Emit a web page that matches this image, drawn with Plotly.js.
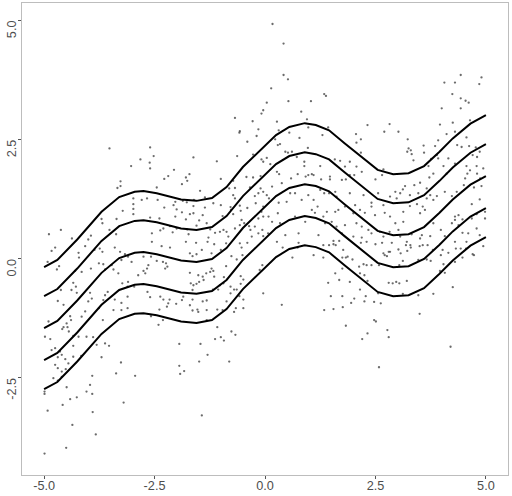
<!DOCTYPE html>
<html>
<head>
<meta charset="utf-8">
<script src="https://cdn.plot.ly/plotly-3.0.1.min.js"></script>
<style>html,body{margin:0;padding:0;background:#fff;}#chart{width:512px;height:496px;}</style>
</head>
<body>
<div id="chart"></div>
<script>
// Quantile curves (0.1, 0.25, 0.5, 0.75, 0.9)
var curveX = [-5,-4.7,-4.25,-3.7,-3.3,-2.95,-2.75,-2.45,-1.9,-1.55,-1.2,-0.87,-0.5,0,0.25,0.55,0.9,1.15,1.45,1.8,2.2,2.55,2.9,3.25,3.6,3.95,4.25,4.65,5];
var q90 = [-0.18,-0.03,0.40,0.98,1.29,1.40,1.415,1.37,1.24,1.21,1.27,1.50,1.92,2.38,2.59,2.76,2.84,2.80,2.69,2.42,2.13,1.86,1.77,1.79,1.94,2.24,2.52,2.83,3.01];
var q75 = [-0.79,-0.64,-0.21,0.37,0.68,0.79,0.805,0.76,0.63,0.60,0.66,0.89,1.31,1.77,1.98,2.15,2.23,2.19,2.08,1.81,1.52,1.25,1.16,1.18,1.33,1.63,1.91,2.22,2.40];
var q50 = [-1.46,-1.31,-0.88,-0.30,0.01,0.12,0.135,0.09,-0.04,-0.07,-0.01,0.22,0.64,1.10,1.31,1.48,1.56,1.52,1.41,1.14,0.85,0.58,0.49,0.51,0.66,0.96,1.24,1.55,1.73];
var q25 = [-2.13,-1.98,-1.55,-0.97,-0.66,-0.55,-0.535,-0.58,-0.71,-0.74,-0.68,-0.45,-0.03,0.43,0.64,0.81,0.89,0.85,0.74,0.47,0.18,-0.09,-0.18,-0.16,-0.01,0.29,0.57,0.88,1.06];
var q10 = [-2.74,-2.59,-2.16,-1.58,-1.27,-1.16,-1.145,-1.19,-1.32,-1.35,-1.29,-1.06,-0.64,-0.18,0.03,0.20,0.28,0.24,0.13,-0.14,-0.43,-0.70,-0.79,-0.77,-0.62,-0.32,-0.04,0.27,0.45];

// Scatter points, read region by region
var dotsXa = [-3.52,-2.82,-3.03,-3.27,-3.27,-3.34,-2.98,-2.79,-2.98,-2.98,-2.98,-3.22,-3.36,-3.70,-3.68,-3.52,-3.37,-4.62,-4.89,-4.37,-3.94,-4.00];
var dotsYa = [2.31,2.08,1.94,1.62,1.52,1.48,1.26,1.23,1.14,1.04,0.93,1.00,0.83,0.83,0.74,0.60,0.51,0.60,0.51,0.42,0.48,0.40];

var dotsXb = [-0.04,-0.08,-0.68,-0.28,-0.57,-0.58,-0.15,-0.19,-0.40,-2.60,
-2.52,-1.62,-1.09,-0.63,-0.27,-0.08,-0.04,-2.61,-2.60,-2.06,
-2.19,-2.28,-1.71,-1.79,-1.76,-1.88,-1.00,-2.45,-1.47,-0.72,
-0.81,-0.68,-0.42,-0.27,-0.10,-0.34,-0.10,-0.15,-0.23,-0.04,
-0.72,-0.68,-2.67,-2.43,-2.03,-1.86,-1.77,-1.61,-1.36,-1.17,
-2.28,-2.07,-2.00,-1.62,-1.36,-1.00,-0.78,-0.57,-0.40,-0.77,
-0.55,-0.72,-0.96,-1.41,-1.62,-1.70,-1.88,-2.03,-1.79,-2.39,
-2.60,-1.49,-1.32,-1.55,-1.24,-2.00,-2.15,-2.30,-2.37,-2.56,
-2.09,-1.76,-1.73,-1.13,-1.02,-0.94,-0.53,-0.57,-0.47,-0.36,
-0.33,-0.23,-0.15,-0.30,-0.68,-0.87,-0.83,-1.28,-0.04,-0.08,
-0.04,-0.21,-0.15,-0.06,-0.04];
var dotsYb = [3.11,3.04,2.95,2.88,2.67,2.64,2.71,2.57,2.45,2.33,
2.15,2.12,2.04,2.15,2.18,2.08,2.03,2.01,1.89,1.86,
1.73,1.67,1.77,1.70,1.63,1.56,1.67,1.49,1.42,1.63,
1.47,1.48,1.71,1.70,1.73,1.49,1.47,1.37,1.31,1.40,
1.33,1.26,1.26,1.23,1.19,1.21,1.18,1.23,1.28,1.16,
1.07,1.12,1.03,1.10,1.07,1.12,1.08,1.11,1.06,1.02,
1.00,0.93,0.89,0.91,0.95,0.93,0.97,0.88,0.82,0.84,
0.86,0.80,0.74,0.69,0.61,0.63,0.68,0.63,0.59,0.53,
0.55,0.61,0.51,0.54,0.56,0.60,0.81,0.70,0.74,0.68,
0.60,0.67,0.53,0.46,0.63,0.56,0.46,0.44,0.88,0.98,
1.09,1.16,0.84,0.60,0.47];

var dotsXc = [0.17,0.42,0.42,0.52,0.14,0.04,0.53,1.04,1.34,1.38,
0.82,0.27,0.95,0.98,2.32,2.70,0.31,0.55,1.43,0.78,
0.23,0.29,0.34,1.30,2.06,2.17,2.07,0.97,0.46,0.52,
0.61,2.17,0.04,0.12,0.27,0.32,0.72,0.89,0.89,1.25,
1.58,1.70,1.92,1.81,2.07,2.19,2.02,2.50,2.68,2.65,
0.38,0.59,0.74,0.98,1.06,1.10,0.92,1.47,1.47,1.27,
1.74,1.83,1.92,0.16,0.57,0.68,0.98,1.10,1.25,1.34,
1.45,1.59,1.62,1.92,2.23,2.41,2.56,0.04,0.09,0.31,
0.49,0.83,1.06,1.13,1.19,1.40,1.59,1.66,1.81,2.00,
2.04,2.15,2.26,2.41,2.49,2.68,2.71,0.08,0.16,0.29,
0.34,0.68,0.91,1.32,1.36,1.51,1.62,1.81,2.07,2.19,
2.34,2.41,2.60,2.68,0.76,0.46,0.07,1.21,1.74,2.00,
2.19];
var dotsYc = [4.92,4.51,3.85,3.76,3.57,3.27,3.30,3.30,3.45,3.41,
3.08,2.87,2.92,2.75,2.80,2.66,2.69,2.64,2.75,2.53,
2.50,2.38,2.40,2.59,2.61,2.50,2.43,2.32,2.24,2.22,
2.24,2.22,2.11,1.98,1.82,1.77,2.13,2.03,1.94,1.94,
2.08,2.05,2.03,1.93,1.93,1.82,1.75,1.66,1.87,1.75,
1.58,1.68,1.77,1.75,1.77,1.75,1.72,1.72,1.66,1.66,
1.65,1.66,1.75,1.51,1.37,1.37,1.33,1.23,1.44,1.37,
1.37,1.40,1.30,1.37,1.33,1.17,1.37,1.33,1.26,1.17,
1.19,1.23,1.02,0.96,1.09,0.98,0.98,1.02,1.09,0.95,
1.12,1.02,0.96,1.09,0.91,1.12,0.96,0.88,0.77,0.95,
0.74,0.88,0.77,0.88,0.74,0.77,0.67,0.70,0.74,0.67,
0.60,0.53,0.56,0.46,0.53,0.49,0.53,0.49,0.53,0.46,
0.44];

var dotsXd = [4.43,4.90,4.85,4.06,4.30,4.24,4.43,4.54,4.61,4.00,
4.43,2.82,3.02,3.23,3.96,4.25,4.64,4.11,4.30,3.92,
3.25,3.30,3.22,3.32,3.36,3.59,3.60,3.85,4.35,4.45,
4.56,4.62,4.77,4.86,4.70,4.80,4.15,3.92,3.89,3.76,
3.70,4.04,4.30,4.56,4.79,4.94,4.64,4.58,4.53,4.80,
4.87,4.50,4.73,4.90,4.11,3.81,3.72,3.51,3.38,3.17,
3.12,2.95,3.06,2.83,2.98,3.28,3.47,3.66,3.74,3.89,
3.66,3.81,4.07,4.23,4.34,4.86,3.28,3.44,3.57,3.62,
3.51,4.68,3.13,2.83,2.95,3.13,3.81,4.30,4.38,4.30,
4.23,4.38,4.47,4.68,4.79,4.98,4.98,3.98,4.07,4.47,
4.60,4.79,2.82,3.02,3.06,3.32,3.55,3.51,3.74,4.86];
var dotsYd = [3.85,3.80,3.66,3.69,3.69,3.45,3.36,3.31,3.27,3.15,
3.15,2.82,2.66,2.50,2.81,2.85,2.90,2.61,2.66,2.48,
2.31,2.27,2.24,2.19,2.06,2.37,2.22,2.36,2.38,2.34,
2.54,2.36,2.33,2.24,2.17,2.13,2.10,2.10,2.17,2.09,
1.94,1.94,1.99,1.94,1.94,1.89,1.85,1.78,1.68,1.78,
1.68,1.54,1.49,1.52,1.78,1.78,1.70,1.59,1.54,1.52,
1.45,1.40,1.37,1.30,1.26,1.33,1.37,1.47,1.33,1.31,
1.26,1.23,1.40,1.31,1.40,1.24,1.10,1.14,1.09,1.02,
0.95,1.14,0.98,0.88,0.74,0.77,0.74,0.88,0.91,0.81,
0.74,0.70,0.82,0.84,0.93,0.98,0.84,0.60,0.47,0.54,
0.53,0.63,0.56,0.60,0.46,0.51,0.49,0.42,0.47,0.49];

var dotsXe = [-4.92,-4.83,-4.75,-4.66,-4.71,-4.22,-4.21,-4.07,-3.86,-3.74,
-3.68,-3.76,-3.66,-3.47,-3.62,-3.94,-4.15,-4.30,-4.34,-4.28,
-4.26,-4.38,-4.62,-4.69,-4.56,-4.90,-3.40,-3.28,-3.17,-3.10,
-3.25,-3.02,-3.43,-3.32,-2.87,-3.10,-3.23,-3.11,-2.96,-3.56,
-3.62,-3.96,-3.92,-3.66,-3.40,-3.25,-3.11,-3.11,-3.25,-3.43,
-3.76,-4.00,-4.07,-4.15,-4.41,-4.39,-4.49,-4.56,-4.47,-4.59,
-4.44,-4.34,-4.22,-4.04,-3.89,-3.67,-3.62,-3.53,-3.81,-4.34,
-4.86,-4.98,-4.83,-4.75,-4.64,-4.60,-4.69,-4.52,-4.75,-4.69,
-4.60,-4.51,-4.45,-4.34,-4.16,-3.70,-3.26,-4.79,-4.69,-4.60,
-4.49,-4.99,-4.99,-3.91,-3.96,-4.04,-3.91,-4.26,-4.41,-4.58,
-4.92,-3.90,-3.37,-2.94,-3.20,-4.36,-3.83,-4.50,-4.99];
var dotsYe = [-0.07,0.16,0.23,-0.16,-0.23,0.12,0.02,0.26,0.18,0.21,
0.14,-0.10,-0.12,-0.14,-0.23,-0.21,-0.28,-0.26,-0.51,-0.59,
-0.72,-0.66,-0.66,-0.89,-0.97,-1.32,0.23,0.14,0.09,0.04,
-0.03,-0.07,-0.23,-0.31,-0.35,-0.49,-0.52,-0.59,-0.59,-0.70,
-0.77,-0.72,-0.84,-0.87,-0.86,-0.93,-0.80,-1.04,-1.08,-1.08,
-1.04,-0.90,-1.11,-1.22,-1.21,-1.29,-1.36,-1.44,-1.44,-1.48,
-1.53,-1.62,-1.64,-1.64,-1.65,-1.29,-1.78,-1.83,-1.81,-1.83,
-1.69,-1.64,-1.92,-1.88,-1.95,-2.02,-2.07,-2.11,-2.23,-2.30,
-2.37,-2.32,-2.20,-2.06,-2.04,-2.07,-2.18,-2.51,-2.56,-2.48,
-2.70,-2.79,-2.84,-2.46,-2.65,-2.79,-2.84,-2.91,-2.95,-3.07,
-3.19,-3.22,-2.41,-2.46,-3.02,-3.49,-3.69,-3.97,-4.09];

var dotsXf = [-2.56,-2.34,-2.15,-1.79,-1.56,-1.30,-1.15,-0.88,-0.57,-0.40,
-0.53,-1.43,-1.70,-1.64,-1.55,-1.21,-1.00,-0.76,-0.64,-0.51,
-2.58,-2.45,-2.31,-2.24,-2.21,-2.26,-2.75,-2.64,-2.67,-2.71,
-2.75,-1.70,-1.33,-1.24,-1.17,-1.21,-1.41,-1.51,-1.39,-1.15,
-0.93,-0.88,-0.94,-0.78,-0.70,-0.55,-0.49,-0.55,-1.06,-1.02,
-1.18,-1.68,-1.62,-1.55,-1.49,-1.64,-2.66,-2.60,-2.37,-2.30,
-2.16,-2.19,-2.01,-1.88,-1.85,-1.64,-1.41,-1.32,-1.70,-1.53,
-1.51,-1.64,-1.32,-1.08,-0.96,-0.87,-0.78,-0.64,-0.58,-0.49,
-0.49,-0.66,-0.70,-2.22,-2.39,-2.58,-2.31,-2.41,-1.32,-1.08,
-1.13,-1.00,-0.93,-0.76,-0.67,-1.94,-1.46,-1.30,-1.49,-0.81,
-1.94,-1.83,-1.92,-1.43,-0.04,-0.06,-0.12];
var dotsYf = [0.35,0.26,0.23,0.35,0.33,0.35,0.30,0.32,0.32,0.33,
0.23,0.18,0.11,0.05,0.09,0.11,0.18,0.05,-0.02,0.07,
0.04,-0.05,-0.07,-0.10,-0.17,-0.21,0.04,-0.14,-0.21,-0.31,
-0.26,-0.30,-0.31,-0.28,-0.26,-0.21,-0.38,-0.35,-0.45,-0.38,
-0.39,-0.16,-0.52,-0.59,-0.65,-0.53,-0.44,-0.37,-0.65,-0.56,
-0.65,-0.52,-0.56,-0.53,-0.49,-0.66,-0.70,-0.81,-0.80,-0.86,
-0.86,-0.94,-0.95,-0.87,-0.80,-0.86,-0.90,-0.88,-0.98,-1.07,
-1.12,-1.09,-1.08,-1.07,-1.08,-0.90,-0.73,-0.65,-0.79,-0.86,
-1.04,-1.04,-1.12,-1.01,-1.07,-1.21,-1.29,-1.39,-1.29,-1.44,
-1.69,-1.65,-1.72,-1.53,-1.60,-1.79,-1.79,-2.02,-2.16,-2.16,
-2.25,-2.36,-2.42,-3.29,-0.73,-0.14,-0.24];

var dotsXg = [0.27,0.40,0.76,0.74,1.32,1.45,1.55,1.60,1.55,1.68,
2.17,2.30,2.50,2.65,2.68,2.71,0.62,1.10,1.32,1.77,
1.75,1.83,1.87,1.98,2.23,2.30,2.41,2.13,2.58,1.75,
1.59,2.15,2.25,1.43,1.68,1.92,2.32,2.15,2.56,2.28,
2.02,1.75,1.49,1.95,2.25,2.47,2.62,0.38,1.34,1.55,
1.76,2.47,2.51,1.83,2.32,2.20,2.58];
var dotsYg = [0.35,0.23,0.33,0.23,0.28,0.28,0.30,0.28,0.37,0.37,
0.33,0.35,0.30,0.33,0.11,0.07,0.02,0.07,0.02,0.18,
0.02,0.02,0.04,-0.02,-0.12,-0.14,-0.14,-0.17,-0.14,-0.21,
-0.31,-0.31,-0.35,-0.51,-0.45,-0.49,-0.47,-0.65,-0.73,-0.79,
-0.84,-0.79,-0.79,-0.93,-0.90,-0.91,-0.94,-0.97,-1.08,-1.06,
-1.02,-1.29,-1.32,-1.41,-1.57,-1.69,-2.28];

var dotsXh = [2.87,2.80,2.83,2.76,3.02,3.07,3.21,3.19,3.29,3.30,
3.22,3.12,3.04,3.50,3.57,3.68,3.47,3.66,3.75,3.80,
3.98,4.02,4.15,4.04,3.96,4.07,4.30,4.32,4.43,4.55,
4.56,4.30,4.47,4.70,4.73,4.94,2.80,2.89,2.97,3.04,
3.21,3.12,3.47,3.81,4.25,3.50,2.77,2.80,4.20];
var dotsYh = [0.33,0.14,0.14,0.05,0.19,0.11,0.35,0.28,0.28,0.23,
0.16,-0.05,-0.14,0.26,0.28,0.28,-0.03,-0.02,-0.05,0.18,
0.07,0.18,0.12,-0.12,-0.26,-0.30,0.35,0.21,0.21,0.21,
0.35,-0.07,0.02,0.09,0.07,0.26,-0.51,-0.52,-0.49,-0.52,
-0.47,-0.74,-0.77,-0.74,-0.60,-1.16,-1.50,-1.65,-1.85];

var xTickVals = [-5, -2.5, 0, 2.5, 5];
var xTickText = ['-5.0', '-2.5', '0.0', '2.5', '5.0'];
var yTickVals = [-2.5, 0, 2.5, 5];
var yTickText = ['-2.5', '0.0', '2.5', '5.0'];

var dotX = [].concat(dotsXa, dotsXb, dotsXc, dotsXd, dotsXe, dotsXf, dotsXg, dotsXh);
var dotY = [].concat(dotsYa, dotsYb, dotsYc, dotsYd, dotsYe, dotsYf, dotsYg, dotsYh);

var traces = [{
  type: 'scatter', mode: 'markers', x: dotX, y: dotY,
  marker: {size: 2.3, color: '#3a3a3a', opacity: 0.75},
  hoverinfo: 'skip', showlegend: false
}];
[q10, q25, q50, q75, q90].forEach(function (q) {
  traces.push({
    type: 'scatter', mode: 'lines', x: curveX, y: q,
    line: {color: '#000000', width: 2},
    hoverinfo: 'skip', showlegend: false
  });
});

var tickFont = {family: 'Liberation Sans, Arial, sans-serif', size: 12.7, color: '#4d4d4d'};

// y tick labels: rotated, ending at the tick (text runs downward from it)
var yLabels = yTickVals.map(function (v, i) {
  return {
    xref: 'paper', yref: 'y', x: 0, y: v, text: yTickText[i],
    showarrow: false, textangle: -90, xanchor: 'right', yanchor: 'top',
    xshift: -2, yshift: 1, font: tickFont, borderpad: 0
  };
});

var layout = {
  width: 512, height: 496,
  margin: {l: 22, r: 4, t: 3, b: 21, pad: 0},
  paper_bgcolor: '#ffffff', plot_bgcolor: '#ffffff',
  showlegend: false,
  xaxis: {
    range: [-5.5, 5.5], tickmode: 'array', tickvals: xTickVals, ticktext: xTickText,
    ticks: 'outside', ticklen: 3, tickwidth: 1, tickcolor: '#555555', ticklabelstandoff: -4,
    showgrid: false, zeroline: false, showline: true, mirror: true,
    linecolor: '#bdbdbd', linewidth: 1, tickfont: tickFont
  },
  yaxis: {
    range: [-4.54, 5.36], tickmode: 'array', tickvals: yTickVals, showticklabels: false,
    ticks: 'outside', ticklen: 3, tickwidth: 1, tickcolor: '#555555',
    showgrid: false, zeroline: false, showline: true, mirror: true,
    linecolor: '#bdbdbd', linewidth: 1
  },
  annotations: yLabels
};

Plotly.newPlot('chart', traces, layout, {displayModeBar: false, staticPlot: true});
</script>
</body>
</html>
